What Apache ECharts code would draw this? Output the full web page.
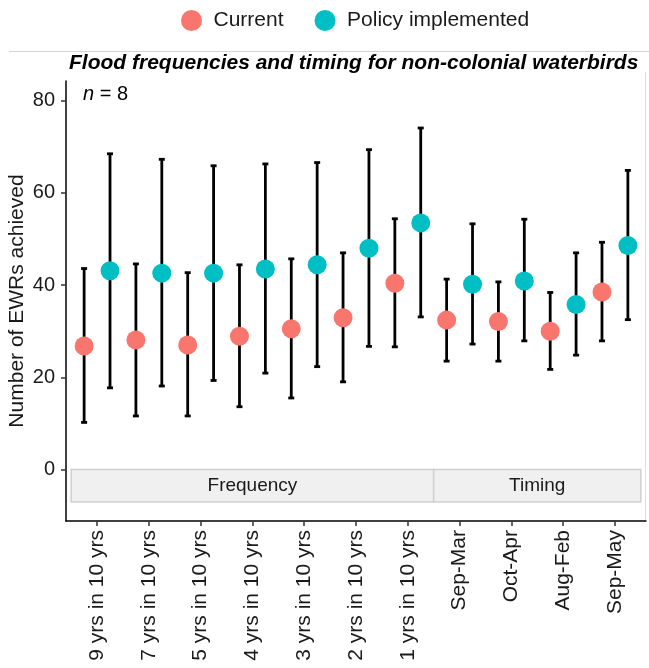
<!doctype html>
<html>
<head>
    <meta charset="utf-8">
    <title>Flood frequencies and timing for non-colonial waterbirds</title>
    <script type="text/javascript" src="https://cdn.jsdelivr.net/npm/echarts@6.0.0/dist/echarts.min.js"></script>
    <style>
        html, body{
            margin: 0;
            padding: 0;
            width: 100%;height: 100%;
            background-color: #fff;
            overflow: hidden;
        }
        #chartBox{
            width: 649px;
            height: 668px;
        }
    </style>
</head>
<body>
    <div id="chartBox"></div>
<script type="text/javascript">
    //类别
    var categories = ['9 yrs in 10 yrs', '7 yrs in 10 yrs', '5 yrs in 10 yrs', '4 yrs in 10 yrs', '3 yrs in 10 yrs',
        '2 yrs in 10 yrs', '1 yrs in 10 yrs', 'Sep-Mar', 'Oct-Apr', 'Aug-Feb', 'Sep-May'];
    //Current
    var currentMean = [26.8, 28.1, 27.0, 28.9, 30.5, 32.9, 40.4, 32.4, 32.1, 30.0, 38.5];
    var currentLow  = [10.2, 11.6, 11.6, 13.6, 15.5, 19.0, 26.6, 23.5, 23.5, 21.7, 27.9];
    var currentHigh = [43.6, 44.6, 42.7, 44.4, 45.7, 47.0, 54.4, 41.3, 40.7, 38.4, 49.3];
    //Policy implemented
    var policyMean = [43.1, 42.6, 42.6, 43.5, 44.4, 48.0, 53.5, 40.2, 40.9, 35.8, 48.6];
    var policyLow  = [17.7, 18.1, 19.3, 20.9, 22.3, 26.7, 33.1, 27.2, 27.9, 24.8, 32.5];
    var policyHigh = [68.5, 67.3, 65.9, 66.3, 66.6, 69.4, 74.1, 53.3, 54.3, 47.0, 64.9];
    //分面
    var facets = ['Frequency', 'Timing'];
    var facetFirst = [0, 7];
    var facetLast = [6, 10];
    //刻度
    var yTicks = [0, 20, 40, 60, 80];

    var FONT = '"Liberation Sans", Arial, sans-serif';
    var DODGE = 0.25;

    function chartInit(){
        var myChart = echarts.init(document.getElementById("chartBox"));

        var xTicks = categories.map(function(c, i){ return i; });
        var curPts = [], polPts = [], curBars = [], polBars = [];
        for (var i = 0; i < categories.length; i++) {
            curPts.push([i - DODGE, currentMean[i]]);
            polPts.push([i + DODGE, policyMean[i]]);
            curBars.push([i - DODGE, currentLow[i], currentHigh[i]]);
            polBars.push([i + DODGE, policyLow[i], policyHigh[i]]);
        }

        //误差线
        function errorBar(params, api){
            var top = api.coord([api.value(0), api.value(2)]);
            var bot = api.coord([api.value(0), api.value(1)]);
            var st = {stroke: '#000', lineWidth: 2.8};
            return {
                type: 'group',
                children: [
                    {type: 'line', shape: {x1: top[0], y1: top[1], x2: bot[0], y2: bot[1]}, style: st},
                    {type: 'line', shape: {x1: top[0] - 3, y1: top[1], x2: top[0] + 3, y2: top[1]}, style: st},
                    {type: 'line', shape: {x1: bot[0] - 3, y1: bot[1], x2: bot[0] + 3, y2: bot[1]}, style: st}
                ]
            };
        }

        //分面标签
        function strip(params, api){
            var k = params.dataIndex;
            var a = api.coord([facetFirst[k] - 0.5, 0]);
            var b = api.coord([facetLast[k] + 0.5, -7.1]);
            return {
                type: 'group',
                children: [
                    {type: 'rect', shape: {x: a[0], y: a[1], width: b[0] - a[0], height: b[1] - a[1]},
                        style: {fill: '#f0f0f0', stroke: '#cfcfcf', lineWidth: 1.5}},
                    {type: 'text', x: (a[0] + b[0]) / 2, y: (a[1] + b[1]) / 2,
                        style: {text: facets[k], fill: '#1a1a1a', font: '19px ' + FONT, align: 'center', verticalAlign: 'middle'}}
                ]
            };
        }

        var option = {
            animation: false,
            title: {
                text: 'Flood frequencies and timing for non-colonial waterbirds',
                left: 64,
                top: 48,
                textStyle: {fontFamily: FONT, fontSize: 21, fontWeight: 'bold', fontStyle: 'italic', color: '#000'}
            },
            legend: {
                data: ['Current', 'Policy implemented'],
                icon: 'circle',
                left: 176,
                top: 5,
                itemWidth: 34,
                itemHeight: 21,
                itemGap: 31,
                textStyle: {fontFamily: FONT, fontSize: 21, color: '#1a1a1a'}
            },
            grid: {left: 66, right: 3, top: 81, bottom: 147, containLabel: false, outerBoundsMode: 'none'},
            xAxis: {
                type: 'value',
                min: -0.6,
                max: 10.6,
                splitLine: {show: false},
                axisLine: {onZero: false, lineStyle: {color: '#000', width: 1.5}},
                axisTick: {length: 5, lineStyle: {color: '#333', width: 1.5}, customValues: xTicks},
                axisLabel: {
                    customValues: xTicks,
                    rotate: 90,
                    margin: 9,
                    fontFamily: FONT,
                    fontSize: 21,
                    color: '#1a1a1a',
                    formatter: function(v){ return categories[Math.round(v)]; }
                }
            },
            yAxis: {
                type: 'value',
                min: -11.2,
                max: 84.3,
                name: 'Number of EWRs achieved',
                nameLocation: 'middle',
                nameGap: 38,
                nameMoveOverlap: false,
                nameTextStyle: {fontFamily: FONT, fontSize: 21, color: '#1a1a1a'},
                splitLine: {show: false},
                axisLine: {show: true, onZero: false, lineStyle: {color: '#000', width: 1.5}},
                axisTick: {show: true, length: 5, lineStyle: {color: '#333', width: 1.5}, customValues: yTicks},
                axisLabel: {customValues: yTicks, margin: 11, fontFamily: FONT, fontSize: 20, color: '#1a1a1a'}
            },
            graphic: [
                {type: 'line', shape: {x1: 9, y1: 51.5, x2: 649, y2: 51.5}, style: {stroke: '#d4d4d4', lineWidth: 1}},
                {type: 'line', shape: {x1: 645.5, y1: 72, x2: 645.5, y2: 520}, style: {stroke: '#e0e0e0', lineWidth: 1}},
                {type: 'text', left: 83, top: 84, style: {
                    text: '{i|n} = 8',
                    rich: {i: {fontStyle: 'italic', fontFamily: FONT, fontSize: 20}},
                    font: '20px ' + FONT, fill: '#000'
                }}
            ],
            series: [
                {type: 'custom', renderItem: strip, data: facets.map(function(f, i){ return [facetFirst[i]]; }), silent: true, z: 1},
                {type: 'custom', renderItem: errorBar, data: curBars, silent: true, z: 2},
                {type: 'custom', renderItem: errorBar, data: polBars, silent: true, z: 2},
                {name: 'Current', type: 'scatter', data: curPts, symbolSize: 19, itemStyle: {color: '#F8766D', opacity: 1}, z: 3},
                {name: 'Policy implemented', type: 'scatter', data: polPts, symbolSize: 19, itemStyle: {color: '#00BFC4', opacity: 1}, z: 3}
            ]
        };
        myChart.clear();
        myChart.setOption(option);
    }

    chartInit();
</script>
</body>
</html>
